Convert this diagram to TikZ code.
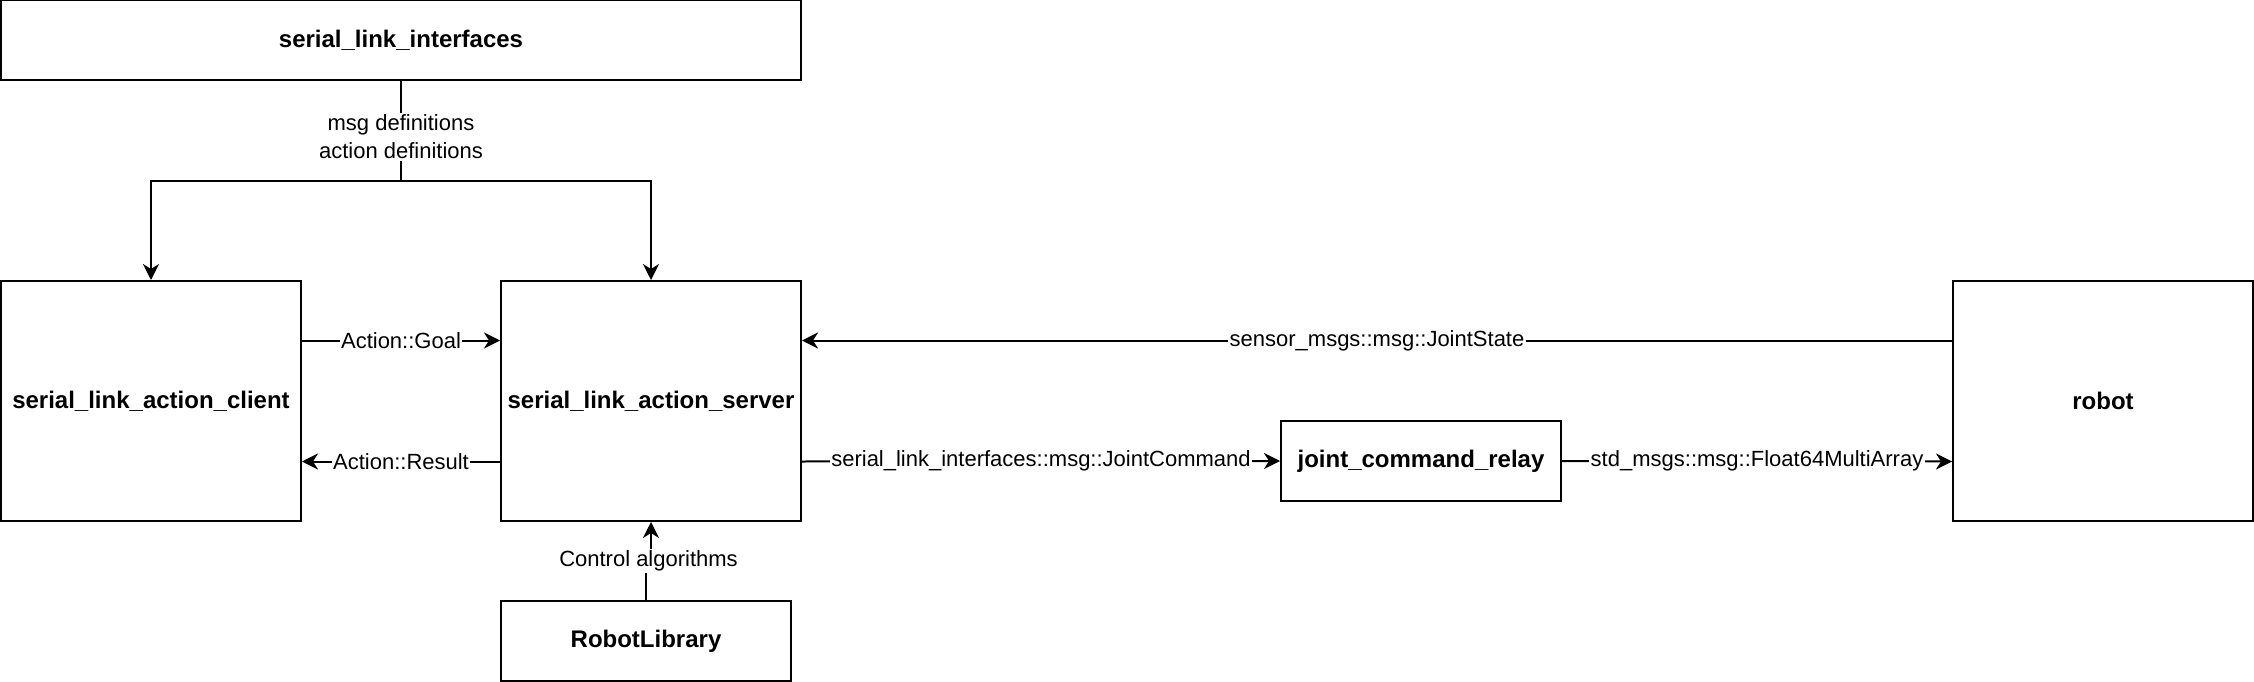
\documentclass[tikz,border=0pt]{standalone}
\usepackage{fontspec}
\setmainfont{Liberation Sans}
\usetikzlibrary{arrows.meta,calc}
\begin{document}
\begin{tikzpicture}[x=1pt,y=-1pt,
  box/.style={draw, line width=2pt, inner sep=0pt, align=center, font=\fontsize{24}{28}\selectfont\bfseries},
  lbl/.style={fill=white, inner sep=1.5pt, align=center, font=\fontsize{22}{28}\selectfont},
  conn/.style={line width=2pt},
  arr/.style={line width=2pt, -{Stealth[length=16pt,width=16pt,inset=5pt]}}]
\useasboundingbox (0,0) rectangle (2254,682);
% boxes
\node[box, minimum width=800pt, minimum height=80pt] (sli) at (401,40) {serial\_link\_interfaces};
\node[box, minimum width=300pt, minimum height=240pt] (client) at (151,401) {serial\_link\_action\_client};
\node[box, minimum width=300pt, minimum height=240pt] (server) at (651,401) {serial\_link\_action\_server};
\node[box, minimum width=300pt, minimum height=240pt] (robot) at (2103,401) {robot};
\node[box, minimum width=280pt, minimum height=80pt] (relay) at (1421,461) {joint\_command\_relay};
\node[box, minimum width=290pt, minimum height=80pt] (rl) at (646,641) {RobotLibrary};
% interfaces to client/server
\coordinate (split) at (401,181);
\draw[conn] (sli.south) -- (split);
\draw[arr] (split) -| (client.north);
\draw[arr] (split) -| (server.north);
\node[lbl] (deflbl) at (401,137) {msg definitions\\action definitions};
% goal / result
\draw[arr] ($(client.north east)!0.25!(client.south east)$) -- node[lbl] (goallbl) {Action::Goal} ($(server.north west)!0.25!(server.south west)$);
\draw[arr] ($(server.north west)!0.75!(server.south west)$) -- node[lbl] (resultlbl) {Action::Result} ($(client.north east)!0.75!(client.south east)$);
% joint state
\draw[arr] ($(robot.north west)!0.25!(robot.south west)$) -- node[lbl] (jslbl) {sensor\_msgs::msg::JointState} ($(server.north east)!0.25!(server.south east)$);
% joint command
\draw[arr] ($(server.north east)!0.75!(server.south east)$) -- node[lbl] (jclbl) {serial\_link\_interfaces::msg::JointCommand} (relay.west);
\draw[arr] (relay.east) -- node[lbl] (fllbl) {std\_msgs::msg::Float64MultiArray} ($(robot.north west)!0.75!(robot.south west)$);
% control algorithms
\coordinate (cj1) at (646,561);
\coordinate (cj2) at (651,561);
\draw[arr] (rl.north) -- (cj1) -- (cj2) -- (server.south);
\node[lbl] (ctrllbl) at (648.5,561) {Control algorithms};
\end{tikzpicture}
\end{document}
